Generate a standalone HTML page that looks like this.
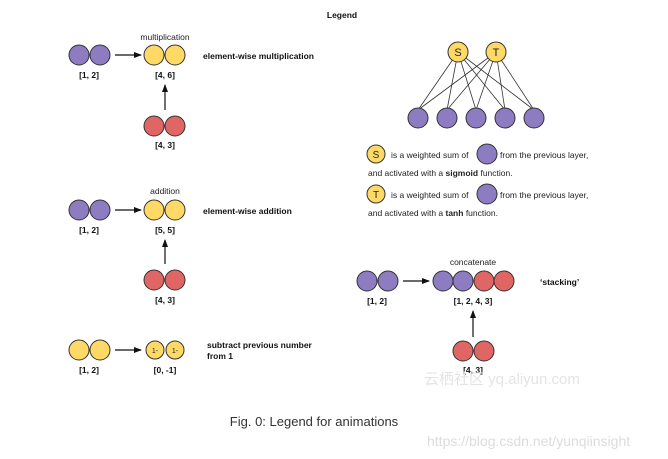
<!DOCTYPE html>
<html><head><meta charset="utf-8"><style>
html,body{margin:0;padding:0;background:#fff;}
svg{display:block;font-family:"Liberation Sans",Arial,sans-serif;}
.p{fill:#8e7cc3;stroke:#333;stroke-width:1}
.y{fill:#ffd966;stroke:#333;stroke-width:1}
.r{fill:#e06666;stroke:#333;stroke-width:1}
.b{font-weight:bold;font-size:8.5px;fill:#111}
.s{font-size:8.5px;fill:#222}
.l{stroke:#111;stroke-width:1.2}
.n{stroke:#333;stroke-width:0.8}
</style></head><body>
<svg width="668" height="459" viewBox="0 0 668 459">
<defs><marker id="a" markerWidth="8" markerHeight="8" refX="7" refY="4" orient="auto" markerUnits="userSpaceOnUse"><path d="M0,1 L8,4 L0,7 z" fill="#111"/></marker></defs>
<text x="342" y="18" class="b" text-anchor="middle">Legend</text>

<!-- row1 -->
<text x="165" y="40" class="s" text-anchor="middle">multiplication</text>
<circle cx="79" cy="55" r="10" class="p"/><circle cx="100" cy="55" r="10" class="p"/>
<line x1="115" y1="55" x2="141" y2="55" class="l" marker-end="url(#a)"/>
<circle cx="154" cy="55" r="10" class="y"/><circle cx="175" cy="55" r="10" class="y"/>
<text x="89" y="78" class="b" text-anchor="middle">[1, 2]</text>
<text x="165" y="78" class="b" text-anchor="middle">[4, 6]</text>
<line x1="165" y1="110" x2="165" y2="85" class="l" marker-end="url(#a)"/>
<circle cx="154" cy="126" r="10" class="r"/><circle cx="175" cy="126" r="10" class="r"/>
<text x="165" y="148" class="b" text-anchor="middle">[4, 3]</text>
<text x="203" y="59" class="b">element-wise multiplication</text>

<!-- row2 -->
<text x="165" y="194" class="s" text-anchor="middle">addition</text>
<circle cx="79" cy="210" r="10" class="p"/><circle cx="100" cy="210" r="10" class="p"/>
<line x1="115" y1="210" x2="141" y2="210" class="l" marker-end="url(#a)"/>
<circle cx="154" cy="210" r="10" class="y"/><circle cx="175" cy="210" r="10" class="y"/>
<text x="89" y="233" class="b" text-anchor="middle">[1, 2]</text>
<text x="165" y="233" class="b" text-anchor="middle">[5, 5]</text>
<line x1="165" y1="264" x2="165" y2="240" class="l" marker-end="url(#a)"/>
<circle cx="154" cy="280" r="10" class="r"/><circle cx="175" cy="280" r="10" class="r"/>
<text x="165" y="303" class="b" text-anchor="middle">[4, 3]</text>
<text x="203" y="214" class="b">element-wise addition</text>

<!-- row3 -->
<circle cx="79" cy="350" r="10" class="y"/><circle cx="100" cy="350" r="10" class="y"/>
<line x1="115" y1="350" x2="141" y2="350" class="l" marker-end="url(#a)"/>
<circle cx="155" cy="350" r="9" class="y"/><circle cx="175" cy="350" r="9" class="y"/>
<text x="155" y="353" font-size="7" fill="#222" text-anchor="middle">1-</text>
<text x="175" y="353" font-size="7" fill="#222" text-anchor="middle">1-</text>
<text x="89" y="373" class="b" text-anchor="middle">[1, 2]</text>
<text x="165" y="373" class="b" text-anchor="middle">[0, -1]</text>
<text x="207" y="348" class="b">subtract previous number</text>
<text x="207" y="359" class="b">from 1</text>

<!-- network -->
<g class="n">
<line x1="458" y1="52" x2="418" y2="110"/><line x1="458" y1="52" x2="447" y2="110"/><line x1="458" y1="52" x2="476" y2="110"/><line x1="458" y1="52" x2="505" y2="110"/><line x1="458" y1="52" x2="534" y2="110"/>
<line x1="496" y1="52" x2="418" y2="110"/><line x1="496" y1="52" x2="447" y2="110"/><line x1="496" y1="52" x2="476" y2="110"/><line x1="496" y1="52" x2="505" y2="110"/><line x1="496" y1="52" x2="534" y2="110"/>
</g>
<circle cx="458" cy="52" r="10" class="y"/><circle cx="496" cy="52" r="10" class="y"/>
<text x="458" y="56" font-size="11" fill="#222" text-anchor="middle">S</text>
<text x="496" y="56" font-size="11" fill="#222" text-anchor="middle">T</text>
<circle cx="418" cy="118" r="10" class="p"/><circle cx="447" cy="118" r="10" class="p"/><circle cx="476" cy="118" r="10" class="p"/><circle cx="505" cy="118" r="10" class="p"/><circle cx="534" cy="118" r="10" class="p"/>

<circle cx="376" cy="154" r="9" class="y"/><text x="376" y="158" font-size="10" fill="#222" text-anchor="middle">S</text>
<text x="391" y="158" class="s">is a weighted sum of</text>
<circle cx="487" cy="154" r="10" class="p"/>
<text x="500" y="158" class="s">from the previous layer,</text>
<text x="368" y="176" class="s">and activated with a <tspan font-weight="bold">sigmoid</tspan> function.</text>
<circle cx="376" cy="194" r="9" class="y"/><text x="376" y="198" font-size="10" fill="#222" text-anchor="middle">T</text>
<text x="391" y="198" class="s">is a weighted sum of</text>
<circle cx="487" cy="194" r="10" class="p"/>
<text x="500" y="198" class="s">from the previous layer,</text>
<text x="368" y="216" class="s">and activated with a <tspan font-weight="bold">tanh</tspan> function.</text>

<!-- concat -->
<text x="473" y="265" class="s" text-anchor="middle">concatenate</text>
<circle cx="367" cy="281" r="10" class="p"/><circle cx="388" cy="281" r="10" class="p"/>
<line x1="403" y1="281" x2="429" y2="281" class="l" marker-end="url(#a)"/>
<circle cx="443" cy="281" r="10" class="p"/><circle cx="463" cy="281" r="10" class="p"/><circle cx="484" cy="281" r="10" class="r"/><circle cx="504" cy="281" r="10" class="r"/>
<text x="377" y="304" class="b" text-anchor="middle">[1, 2]</text>
<text x="473" y="304" class="b" text-anchor="middle">[1, 2, 4, 3]</text>
<line x1="473" y1="337" x2="473" y2="311" class="l" marker-end="url(#a)"/>
<circle cx="463" cy="351" r="10" class="r"/><circle cx="484" cy="351" r="10" class="r"/>
<text x="473" y="373" class="b" text-anchor="middle">[4, 3]</text>
<text x="540" y="285" class="b">‘stacking’</text>

<text x="424" y="384" font-size="15" fill="#e4e4e4" font-family="'Liberation Sans','Noto Sans CJK SC',sans-serif">云栖社区 yq.aliyun.com</text>
<text x="314" y="426" font-size="13" fill="#333" text-anchor="middle">Fig. 0: Legend for animations</text>
<text x="427" y="446" font-size="14" fill="#dcdcdc">https://blog.csdn.net/yunqiinsight</text>
</svg>
</body></html>
